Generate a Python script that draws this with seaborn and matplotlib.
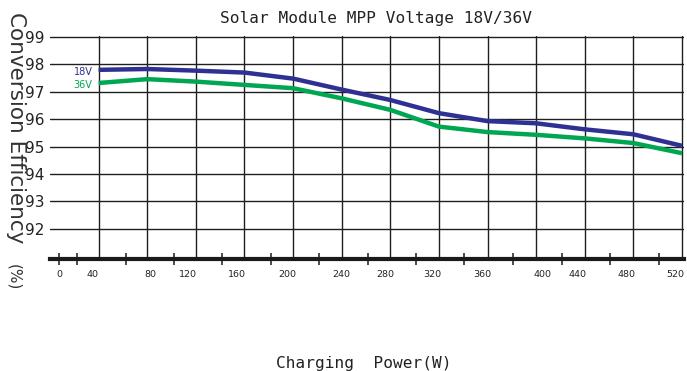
import matplotlib
matplotlib.use("Agg")
import matplotlib.pyplot as plt
import matplotlib.transforms as mtransforms
import numpy as np
import pandas as pd
import seaborn as sns

# Charging power (W) at each measurement point
power_w = [40, 80, 120, 160, 200, 240, 280, 320, 360, 400, 440, 480, 520]
# Conversion efficiency (%) for each module voltage
eff_18v = [97.80, 97.83, 97.77, 97.70, 97.48, 97.08, 96.70, 96.22, 95.93, 95.85, 95.63, 95.45, 95.03]
eff_36v = [97.32, 97.46, 97.37, 97.25, 97.13, 96.76, 96.34, 95.73, 95.53, 95.43, 95.30, 95.13, 94.76]
series_names = ["18V", "36V"]

y_ticks = [92, 93, 94, 95, 96, 97, 98, 99]
x_tick_labels = ["0", "40", "80", "120", "160", "200", "240", "280", "320",
                 "360", "400", "440", "480", "520"]

# Layout: where the x labels and the small tick marks sit along the axis
x_label_pos = [7.4, 34.6, 82.3, 113.5, 153.8, 195, 239.4, 275.6, 314.3,
               355.4, 405.6, 434.4, 474.7, 514.2]
x_mark_pos = [7.4, 22, 62.3, 102, 141.5, 181.6, 221.3, 261.4, 301.1,
              340.6, 381, 421.3, 460.8, 501]
grid_x = np.arange(40, 521, 40)

colors = {"18V": "#2e3192", "36V": "#00a651"}

df = pd.DataFrame({
    "power": power_w * 2,
    "eff": eff_18v + eff_36v,
    "series": [series_names[0]] * len(power_w) + [series_names[1]] * len(power_w),
})

sns.set_theme(style="white")
plt.rcParams["font.family"] = ["DejaVu Sans"]

fig = plt.figure(figsize=(6.87, 3.71), dpi=100)
ax = fig.add_axes([0.0728, 0.3032, 0.9234, 0.601])

ax.set_xlim(0, 522)
ax.set_ylim(90.92, 99.05)

# grid
ink = "#1f1f1f"
for gx in grid_x:
    ax.axvline(gx, color=ink, lw=1.0, zorder=1)
for gy in y_ticks:
    ax.axhline(gy, color=ink, lw=1.0, zorder=1)

sns.lineplot(data=df, x="power", y="eff", hue="series", palette=colors,
             linewidth=3.2, legend=False, ax=ax, zorder=3)
for line in ax.get_lines()[-2:]:
    line.set_solid_capstyle("butt")

# series labels near the start of each curve
ax.text(35, 97.72, series_names[0], color=colors["18V"], fontsize=7,
        ha="right", va="center")
ax.text(35, 97.25, series_names[1], color=colors["36V"], fontsize=7,
        ha="right", va="center")

for side in ["top", "left", "right"]:
    ax.spines[side].set_visible(False)
ax.spines["bottom"].set_linewidth(3.0)
ax.spines["bottom"].set_color("#1a1a1a")

ax.set_yticks(y_ticks)
ax.set_yticklabels([str(v) for v in y_ticks], fontsize=11, color="#222222")
ax.tick_params(axis="y", length=0, pad=4)

ax.set_xticks(x_mark_pos)
ax.set_xticklabels([])
ax.tick_params(axis="x", direction="inout", length=8, width=1.1,
               color="#1a1a1a", bottom=True)
ax.set_xlabel("")
ax.set_ylabel("")

trans = mtransforms.blended_transform_factory(ax.transData, ax.transAxes)
for xp, lab in zip(x_label_pos, x_tick_labels):
    ax.text(xp, -0.072, lab, transform=trans, fontsize=6.8, color="#222222",
            ha="center", va="center")

mono = "DejaVu Sans Mono"
fig.text(0.547, 0.951, "Solar Module MPP Voltage 18V/36V", family=mono,
         fontsize=11.6, color="#222222", ha="center", va="center")
fig.text(0.53, 0.019, "Charging  Power(W)", family=mono, fontsize=11.6,
         color="#222222", ha="center", va="center")

fig.text(0.023, 0.656, "Conversion Efficiency", rotation=-90, fontsize=15.5,
         color="#333333", ha="center", va="center")
fig.text(0.02, 0.252, "(%)", rotation=-90, fontsize=11,
         color="#333333", ha="center", va="center")

fig.savefig("out.png", dpi=100)
